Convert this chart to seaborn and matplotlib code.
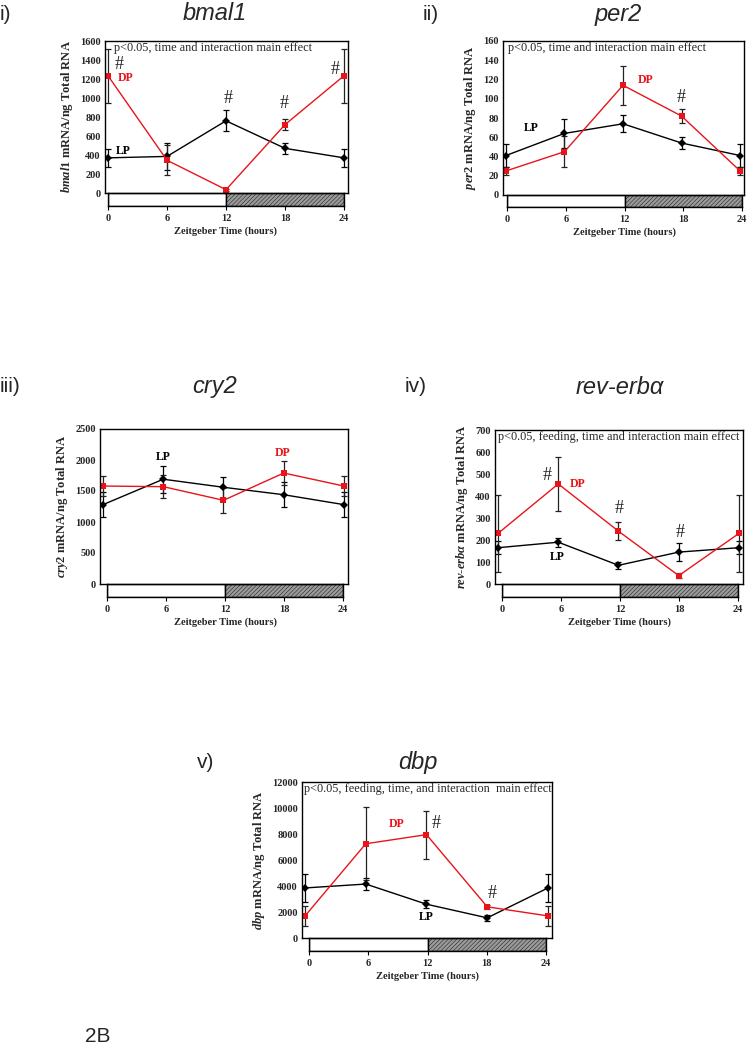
import matplotlib
matplotlib.use("Agg")
import matplotlib.pyplot as plt
import pandas as pd
import seaborn as sns

# Zeitgeber time points
zt = [0, 6, 12, 18, 24]
zt_ticks = [0, 6, 12, 18, 24]

# bmal1
bmal1_lp = [370, 385, 760, 470, 370]
bmal1_lp_err = [95, 140, 110, 60, 95]
bmal1_dp = [1235, 345, 35, 720, 1235]
bmal1_dp_err = [285, 160, 10, 60, 285]

# per2
per2_lp = [41, 64, 74, 54, 41]
per2_lp_err = [12, 15, 9, 6, 12]
per2_dp = [25, 45, 114, 82, 25]
per2_dp_err = [4, 16, 20, 7, 4]

# cry2
cry2_lp = [1280, 1690, 1560, 1440, 1280]
cry2_lp_err = [200, 220, 170, 200, 200]
cry2_dp = [1580, 1570, 1350, 1790, 1580]
cry2_dp_err = [160, 180, 200, 190, 160]

# rev-erb alpha
reverb_lp = [165, 190, 85, 145, 165]
reverb_lp_err = [30, 20, 15, 40, 30]
reverb_dp = [230, 455, 240, 38, 230]
reverb_dp_err = [175, 122, 40, 10, 175]

# dbp
dbp_lp = [3850, 4150, 2600, 1550, 3850]
dbp_lp_err = [1050, 450, 300, 250, 1050]
dbp_dp = [1700, 7250, 7950, 2400, 1700]
dbp_dp_err = [750, 2800, 1850, 150, 750]

W, H = 747, 1050
SERIF = "Liberation Serif"
SANS = "Liberation Sans"

sns.set_theme(style="white")
plt.rcParams["font.family"] = [SERIF, "DejaVu Serif"]
plt.rcParams["mathtext.fontset"] = "custom"
plt.rcParams["mathtext.it"] = "Liberation Serif:italic:bold"
plt.rcParams["mathtext.rm"] = "Liberation Serif:bold"
plt.rcParams["hatch.linewidth"] = 0.3
plt.rcParams["hatch.color"] = "#5a5a5a"

fig = plt.figure(figsize=(W / 100, H / 100), dpi=100)


def px_axes(x0, x1, y0, y1):
    return fig.add_axes([x0 / W, 1 - y1 / H, (x1 - x0) / W, (y1 - y0) / H])


def draw_panel(box, bar, lp, lp_err, dp, dp_err, ymax, ystep, ylab):
    ax = px_axes(*box)
    df = pd.DataFrame({
        "zt": zt + zt,
        "expr": lp + dp,
        "group": ["LP"] * len(zt) + ["DP"] * len(zt),
    })
    ax.errorbar(zt, lp, yerr=lp_err, fmt="none", ecolor="black", elinewidth=0.9, capsize=2, capthick=0.9)
    ax.errorbar(zt, dp, yerr=dp_err, fmt="none", ecolor="#222222", elinewidth=0.9, capsize=2, capthick=0.9)
    sns.lineplot(
        data=df, x="zt", y="expr", hue="group", style="group",
        palette={"LP": "black", "DP": "#e8141b"},
        markers={"LP": "D", "DP": "s"}, dashes=False,
        markersize=3.8, markeredgewidth=0, linewidth=1.0,
        errorbar=None, legend=False, ax=ax,
    )
    ax.set_xlim(-0.3, 24.4)
    ax.set_ylim(0, ymax)
    ax.set_xticks([])
    ax.set_yticks(range(0, ymax + 1, ystep))
    ax.tick_params(axis="y", length=0, pad=3, labelsize=7.5)
    for t in ax.get_yticklabels():
        t.set_fontweight("bold")
    for s in ax.spines.values():
        s.set_color("black")
        s.set_linewidth(1.0)
    ax.set_xlabel("")
    ax.set_ylabel(ylab, fontsize=9, fontweight="bold", labelpad=4)

    # light / dark bar
    bx = px_axes(*bar)
    bx.set_xlim(0, 24)
    bx.set_ylim(0, 1)
    bx.axvspan(0, 12, facecolor="white", edgecolor="black", linewidth=1.0)
    bx.axvspan(12, 24, facecolor="#9a9a9a", edgecolor="black", linewidth=1.0, hatch="////////")
    bx.set_yticks([])
    bx.set_xticks(zt_ticks)
    bx.set_xticklabels([str(v) for v in zt_ticks], fontweight="bold")
    bx.tick_params(axis="x", length=3, width=0.8, color="black", labelsize=7.5, pad=3, bottom=True)
    for s in bx.spines.values():
        s.set_color("black")
        s.set_linewidth(1.0)
    bx.set_xlabel("Zeitgeber Time (hours)", fontsize=7.5, fontweight="bold", labelpad=2)
    return ax


def label_pair(ax, lp_xy, dp_xy):
    ax.text(*lp_xy, "LP", color="black", fontsize=8.5, fontweight="bold", ha="center", va="center")
    ax.text(*dp_xy, "DP", color="#e8141b", fontsize=8.5, fontweight="bold", ha="center", va="center")


def hashes(ax, pts):
    for x, y in pts:
        ax.text(x, y, "#", fontsize=13, color="#222222", ha="center", va="center")


def stats(ax, txt, inset_px):
    width_px = ax.get_position().width * W
    ax.text(inset_px / width_px, 0.955, txt, transform=ax.transAxes, fontsize=8.8, ha="left", va="center")


def heading(x, y, roman, name, title_x):
    fig.text(x / W, 1 - y / H, roman, fontsize=15, family=SANS, ha="left", va="center")
    fig.text(title_x / W, 1 - y / H, name, fontsize=17, family=SANS, style="italic", ha="center", va="center")


# i) bmal1
ax1 = draw_panel((105, 348, 41, 193), (108, 344, 193, 206),
                 bmal1_lp, bmal1_lp_err, bmal1_dp, bmal1_dp_err, 1600, 200,
                 r"$\mathit{bmal1}$ mRNA/ng Total RNA")
stats(ax1, "p<0.05, time and interaction main effect", 9)
label_pair(ax1, (1.6, 442), (1.8, 1210))
hashes(ax1, [(1.1, 1350), (12.2, 1000), (17.9, 937), (23.1, 1295)])
heading(0, 14, "i)", "bmal1", 215)

# ii) per2
ax2 = draw_panel((503, 744, 41, 195), (507, 742, 195, 207),
                 per2_lp, per2_lp_err, per2_dp, per2_dp_err, 160, 20,
                 r"$\mathit{per2}$ mRNA/ng Total RNA")
stats(ax2, "p<0.05, time and interaction main effect", 5)
label_pair(ax2, (2.6, 70), (14.3, 119))
hashes(ax2, [(18.0, 101)])
heading(423, 14, "ii)", "per2", 618)

# iii) cry2
ax3 = draw_panel((100, 348, 429, 584), (107, 343, 584, 597),
                 cry2_lp, cry2_lp_err, cry2_dp, cry2_dp_err, 2500, 500,
                 r"$\mathit{cry2}$ mRNA/ng Total RNA")
label_pair(ax3, (6.0, 2048), (17.9, 2113))
heading(0, 387, "iii)", "cry2", 215)

# iv) rev-erb alpha
ax4 = draw_panel((495, 743, 430, 584), (502, 738, 584, 597),
                 reverb_lp, reverb_lp_err, reverb_dp, reverb_dp_err, 700, 100,
                 r"$\mathit{rev}$-$\mathit{erb}\alpha$ mRNA/ng Total RNA")
stats(ax4, "p<0.05, feeding, time and interaction main effect", 3)
label_pair(ax4, (5.9, 123), (7.9, 455))
hashes(ax4, [(4.9, 495), (12.1, 341), (18.1, 232)])
heading(405, 387, "iv)", "rev-erb\u03b1", 620)

# v) dbp
ax5 = draw_panel((302, 552, 782, 938), (309, 546, 938, 951),
                 dbp_lp, dbp_lp_err, dbp_dp, dbp_dp_err, 12000, 2000,
                 r"$\mathit{dbp}$ mRNA/ng Total RNA")
stats(ax5, "p<0.05, feeding, time, and interaction  main effect", 2)
label_pair(ax5, (12.0, 1600), (9.0, 8770))
hashes(ax5, [(13.0, 8770), (18.5, 3460)])
heading(197, 762, "v)", "dbp", 418)

fig.text(85 / W, 1 - 1037 / H, "2B", fontsize=15, family=SANS, ha="left", va="center")

fig.savefig("out.png", dpi=100)
